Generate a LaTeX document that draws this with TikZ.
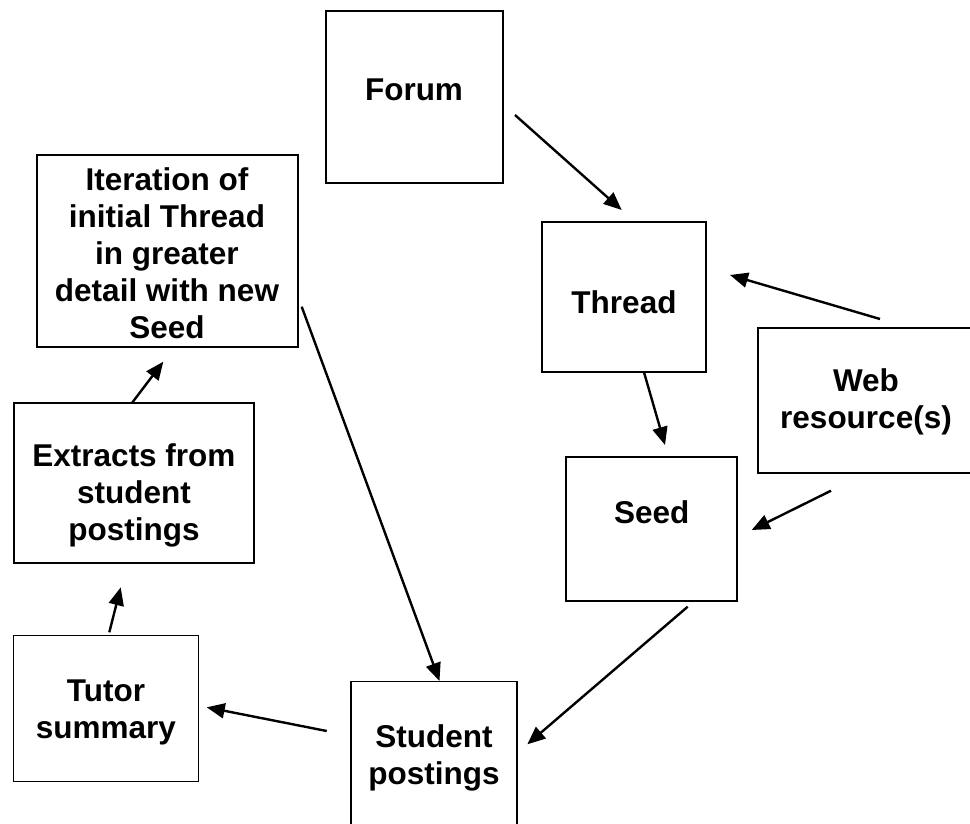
\documentclass[tikz,border=0pt]{standalone}
\usepackage{fontspec}
\setmainfont{Liberation Sans}
\usetikzlibrary{arrows.meta}
\tikzset{
  box/.style={draw=black, line width=1.8pt, fill=none},
  lbl/.style={font=\bfseries\fontsize{31.5}{37}\selectfont, align=center, inner sep=0pt, anchor=base},
  conn/.style={line width=2.4pt, -{Triangle[length=18pt,width=15pt]}}
}
\begin{document}
\begin{tikzpicture}[x=1pt,y=-1pt]
\useasboundingbox (0,0) rectangle (970,824);
% boxes
\draw[box] (326,11) rectangle (503,183);
\draw[box] (37,155) rectangle (298,347);
\draw[box] (542,222) rectangle (706,372);
\draw[box] (758,328) rectangle (976,473);
\draw[box] (566,457) rectangle (737,601);
\draw[box] (14,403) rectangle (254,563);
\draw[box] (13.5,635.5) rectangle (198.5,781.5);
\draw[box] (350.7,681.5) rectangle (517.3,840);
% labels (anchored at the baseline of their last line)
\node[lbl] (forum) at (414,100.5) {Forum};
\node[lbl] (iter) at (167,338.3) {Iteration of\\initial Thread\\in greater\\detail with new\\Seed};
\node[lbl] (thread) at (624,313) {Thread};
\node[lbl] (web) at (866,428.5) {Web\\resource(s)};
\node[lbl] (seed) at (651.7,523) {Seed};
\node[lbl] (extr) at (134,540) {Extracts from\\student\\postings};
\node[lbl] (tutor) at (106,738.6) {Tutor\\summary};
\node[lbl] (stud) at (434,784.2) {Student\\postings};
% connector ends
\coordinate (forumOut) at (515,115);
\coordinate (threadIn1) at (621.7,210);
\coordinate (webOut1) at (880,319);
\coordinate (threadIn2) at (730,275);
\coordinate (threadOut) at (644,372.3);
\coordinate (seedIn1) at (665,445);
\coordinate (webOut2) at (831,490.7);
\coordinate (seedIn2) at (751.7,530);
\coordinate (seedOut) at (687.7,606.7);
\coordinate (studIn1) at (527.3,744.3);
\coordinate (iterOut) at (301.7,306.7);
\coordinate (studIn2) at (439.5,681);
\coordinate (studOut) at (326.7,731);
\coordinate (tutorIn) at (206.7,707.3);
\coordinate (tutorOut) at (109.3,632.3);
\coordinate (extrIn) at (120.7,587.3);
\coordinate (extrOut) at (131.7,403.3);
\coordinate (iterIn) at (163.3,361.7);
% connectors
\draw[conn] (forumOut) -- (threadIn1);
\draw[conn] (webOut1) -- (threadIn2);
\draw[conn] (threadOut) -- (seedIn1);
\draw[conn] (webOut2) -- (seedIn2);
\draw[conn] (seedOut) -- (studIn1);
\draw[conn] (iterOut) -- (studIn2);
\draw[conn] (studOut) -- (tutorIn);
\draw[conn] (tutorOut) -- (extrIn);
\draw[conn] (extrOut) -- (iterIn);
\end{tikzpicture}
\end{document}
